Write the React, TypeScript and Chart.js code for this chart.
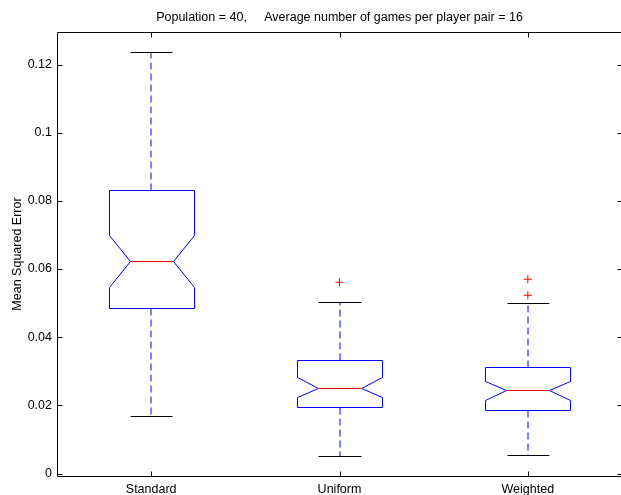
import { useEffect, useRef } from "react";
import { Chart, registerables } from "chart.js";

Chart.register(...registerables);

const categories = ["Standard", "Uniform", "Weighted"];
const whiskerHigh = [0.1236, 0.0502, 0.0499];
const q3Values = [0.0831, 0.0332, 0.0313];
const notchHigh = [0.07, 0.0282, 0.0272];
const medians = [0.0624, 0.0252, 0.0244];
const notchLow = [0.0547, 0.0225, 0.0217];
const q1Values = [0.0486, 0.0195, 0.0185];
const whiskerLow = [0.017, 0.005, 0.0053];
const outlierCategory = [2, 3, 3];
const outlierValues = [0.0561, 0.057, 0.0523];
const yTicks = [0, 0.02, 0.04, 0.06, 0.08, 0.1, 0.12];
const xTicks = [1, 2, 3];
const titleText = "Population = 40,     Average number of games per player pair = 16";
const yTitle = "Mean Squared Error";

const FONT_FAMILY = "'Liberation Sans', Arial, Helvetica, sans-serif";
const FONT_SIZE = 12.5;

const BOX_HALF = 0.226;
const NOTCH_HALF = 0.114;
const CAP_HALF = 0.112;
const TICK_LEN = 5;

const crisp = (v: number) => Math.round(v) + 0.5;

const boxPlugin = {
  id: "notchedBoxes",
  beforeDatasetsDraw(chart: any) {
    const { ctx, scales } = chart;
    const xs = scales.x;
    const ys = scales.y;
    ctx.save();
    for (let i = 0; i < categories.length; i++) {
      const c = i + 1;
      const xl = crisp(xs.getPixelForValue(c - BOX_HALF));
      const xr = crisp(xs.getPixelForValue(c + BOX_HALF));
      const xli = crisp(xs.getPixelForValue(c - NOTCH_HALF));
      const xri = crisp(xs.getPixelForValue(c + NOTCH_HALF));
      const xc = Math.round(xs.getPixelForValue(c));
      const yq3 = crisp(ys.getPixelForValue(q3Values[i]));
      const ynh = crisp(ys.getPixelForValue(notchHigh[i]));
      const ym = crisp(ys.getPixelForValue(medians[i]));
      const ynl = crisp(ys.getPixelForValue(notchLow[i]));
      const yq1 = crisp(ys.getPixelForValue(q1Values[i]));
      const ywh = crisp(ys.getPixelForValue(whiskerHigh[i]));
      const ywl = crisp(ys.getPixelForValue(whiskerLow[i]));
      const cl = crisp(xs.getPixelForValue(c - CAP_HALF));
      const cr = crisp(xs.getPixelForValue(c + CAP_HALF));

      // whiskers (dashed)
      ctx.strokeStyle = "#0000ff";
      ctx.lineWidth = 1;
      ctx.setLineDash([7, 4]);
      ctx.beginPath();
      ctx.moveTo(xc, yq3);
      ctx.lineTo(xc, ywh);
      ctx.moveTo(xc, yq1);
      ctx.lineTo(xc, ywl);
      ctx.stroke();
      ctx.setLineDash([]);

      // caps
      ctx.strokeStyle = "#000000";
      ctx.beginPath();
      ctx.moveTo(cl, ywh);
      ctx.lineTo(cr, ywh);
      ctx.moveTo(cl, ywl);
      ctx.lineTo(cr, ywl);
      ctx.stroke();

      // notched box
      ctx.strokeStyle = "#0000ff";
      ctx.beginPath();
      ctx.moveTo(xl, yq3);
      ctx.lineTo(xr, yq3);
      ctx.lineTo(xr, ynh);
      ctx.lineTo(xri, ym);
      ctx.lineTo(xr, ynl);
      ctx.lineTo(xr, yq1);
      ctx.lineTo(xl, yq1);
      ctx.lineTo(xl, ynl);
      ctx.lineTo(xli, ym);
      ctx.lineTo(xl, ynh);
      ctx.closePath();
      ctx.stroke();

      // median
      ctx.strokeStyle = "#ff0000";
      ctx.beginPath();
      ctx.moveTo(xli, ym);
      ctx.lineTo(xri, ym);
      ctx.stroke();
    }
    ctx.restore();
  },
  afterDraw(chart: any) {
    const { ctx, chartArea, scales } = chart;
    const { left, right, top, bottom } = chartArea;
    ctx.save();
    ctx.strokeStyle = "#000000";
    ctx.lineWidth = 1;
    const l = crisp(left);
    const r = crisp(right);
    const t = crisp(top);
    const b = crisp(bottom);
    ctx.beginPath();
    ctx.rect(l, t, r - l, b - t);
    ctx.stroke();
    ctx.beginPath();
    for (const v of yTicks) {
      const y = crisp(scales.y.getPixelForValue(v));
      ctx.moveTo(l, y);
      ctx.lineTo(l + TICK_LEN, y);
      ctx.moveTo(r, y);
      ctx.lineTo(r - TICK_LEN, y);
    }
    for (const v of xTicks) {
      const x = crisp(scales.x.getPixelForValue(v));
      ctx.moveTo(x, b);
      ctx.lineTo(x, b - TICK_LEN);
      ctx.moveTo(x, t);
      ctx.lineTo(x, t + TICK_LEN);
    }
    ctx.stroke();
    ctx.fillStyle = "#000000";
    ctx.font = `${FONT_SIZE}px ${FONT_FAMILY}`;
    ctx.textAlign = "center";
    ctx.textBaseline = "alphabetic";
    ctx.fillText(titleText, (left + right) / 2, 21);
    ctx.restore();
  },
};

export default function App() {
  const ref = useRef<HTMLCanvasElement | null>(null);
  useEffect(() => {
    if (!ref.current) return;
    const font = { family: FONT_FAMILY, size: FONT_SIZE };
    const chart = new Chart(ref.current, {
      type: "scatter",
      data: {
        datasets: [
          {
            data: outlierValues.map((v, i) => ({ x: outlierCategory[i], y: v })),
            pointStyle: "cross",
            radius: 4,
            borderColor: "#ff0000",
            backgroundColor: "#ff0000",
            borderWidth: 1,
          },
        ],
      },
      options: {
        animation: false,
        responsive: false,
        layout: { padding: { left: 0, right: 18, top: 32, bottom: 0 } },
        plugins: { legend: { display: false }, tooltip: { enabled: false }, title: { display: false } },
        scales: {
          x: {
            type: "linear",
            min: 0.5,
            max: 3.5,
            afterBuildTicks: (s: any) => {
              s.ticks = xTicks.map((v) => ({ value: v }));
            },
            afterFit: (s: any) => {
              s.height = 19;
            },
            ticks: {
              callback: (v: any) => categories[Math.round(Number(v)) - 1],
              color: "#000",
              font,
              padding: 6,
              maxRotation: 0,
              autoSkip: false,
            },
            grid: { display: false, drawTicks: false },
            border: { display: false },
          },
          y: {
            type: "linear",
            min: -0.00073,
            max: 0.12954,
            afterBuildTicks: (s: any) => {
              s.ticks = yTicks.map((v) => ({ value: v }));
            },
            afterFit: (s: any) => {
              s.width = 57;
            },
            ticks: {
              callback: (v: any) => String(+Number(v).toFixed(2)),
              color: "#000",
              font,
              padding: 5,
              autoSkip: false,
            },
            grid: { display: false, drawTicks: false },
            border: { display: false },
            title: { display: true, text: yTitle, color: "#000", font, padding: { top: 10, bottom: 0 } },
          },
        },
      },
      plugins: [boxPlugin],
    });
    return () => chart.destroy();
  }, []);
  return (
    <div style={{ position: "fixed", left: 0, top: 0, width: 621, height: 495, overflow: "hidden", background: "#fff" }}>
      <canvas ref={ref} width={640} height={495} style={{ width: 640, height: 495, display: "block" }} />
    </div>
  );
}
